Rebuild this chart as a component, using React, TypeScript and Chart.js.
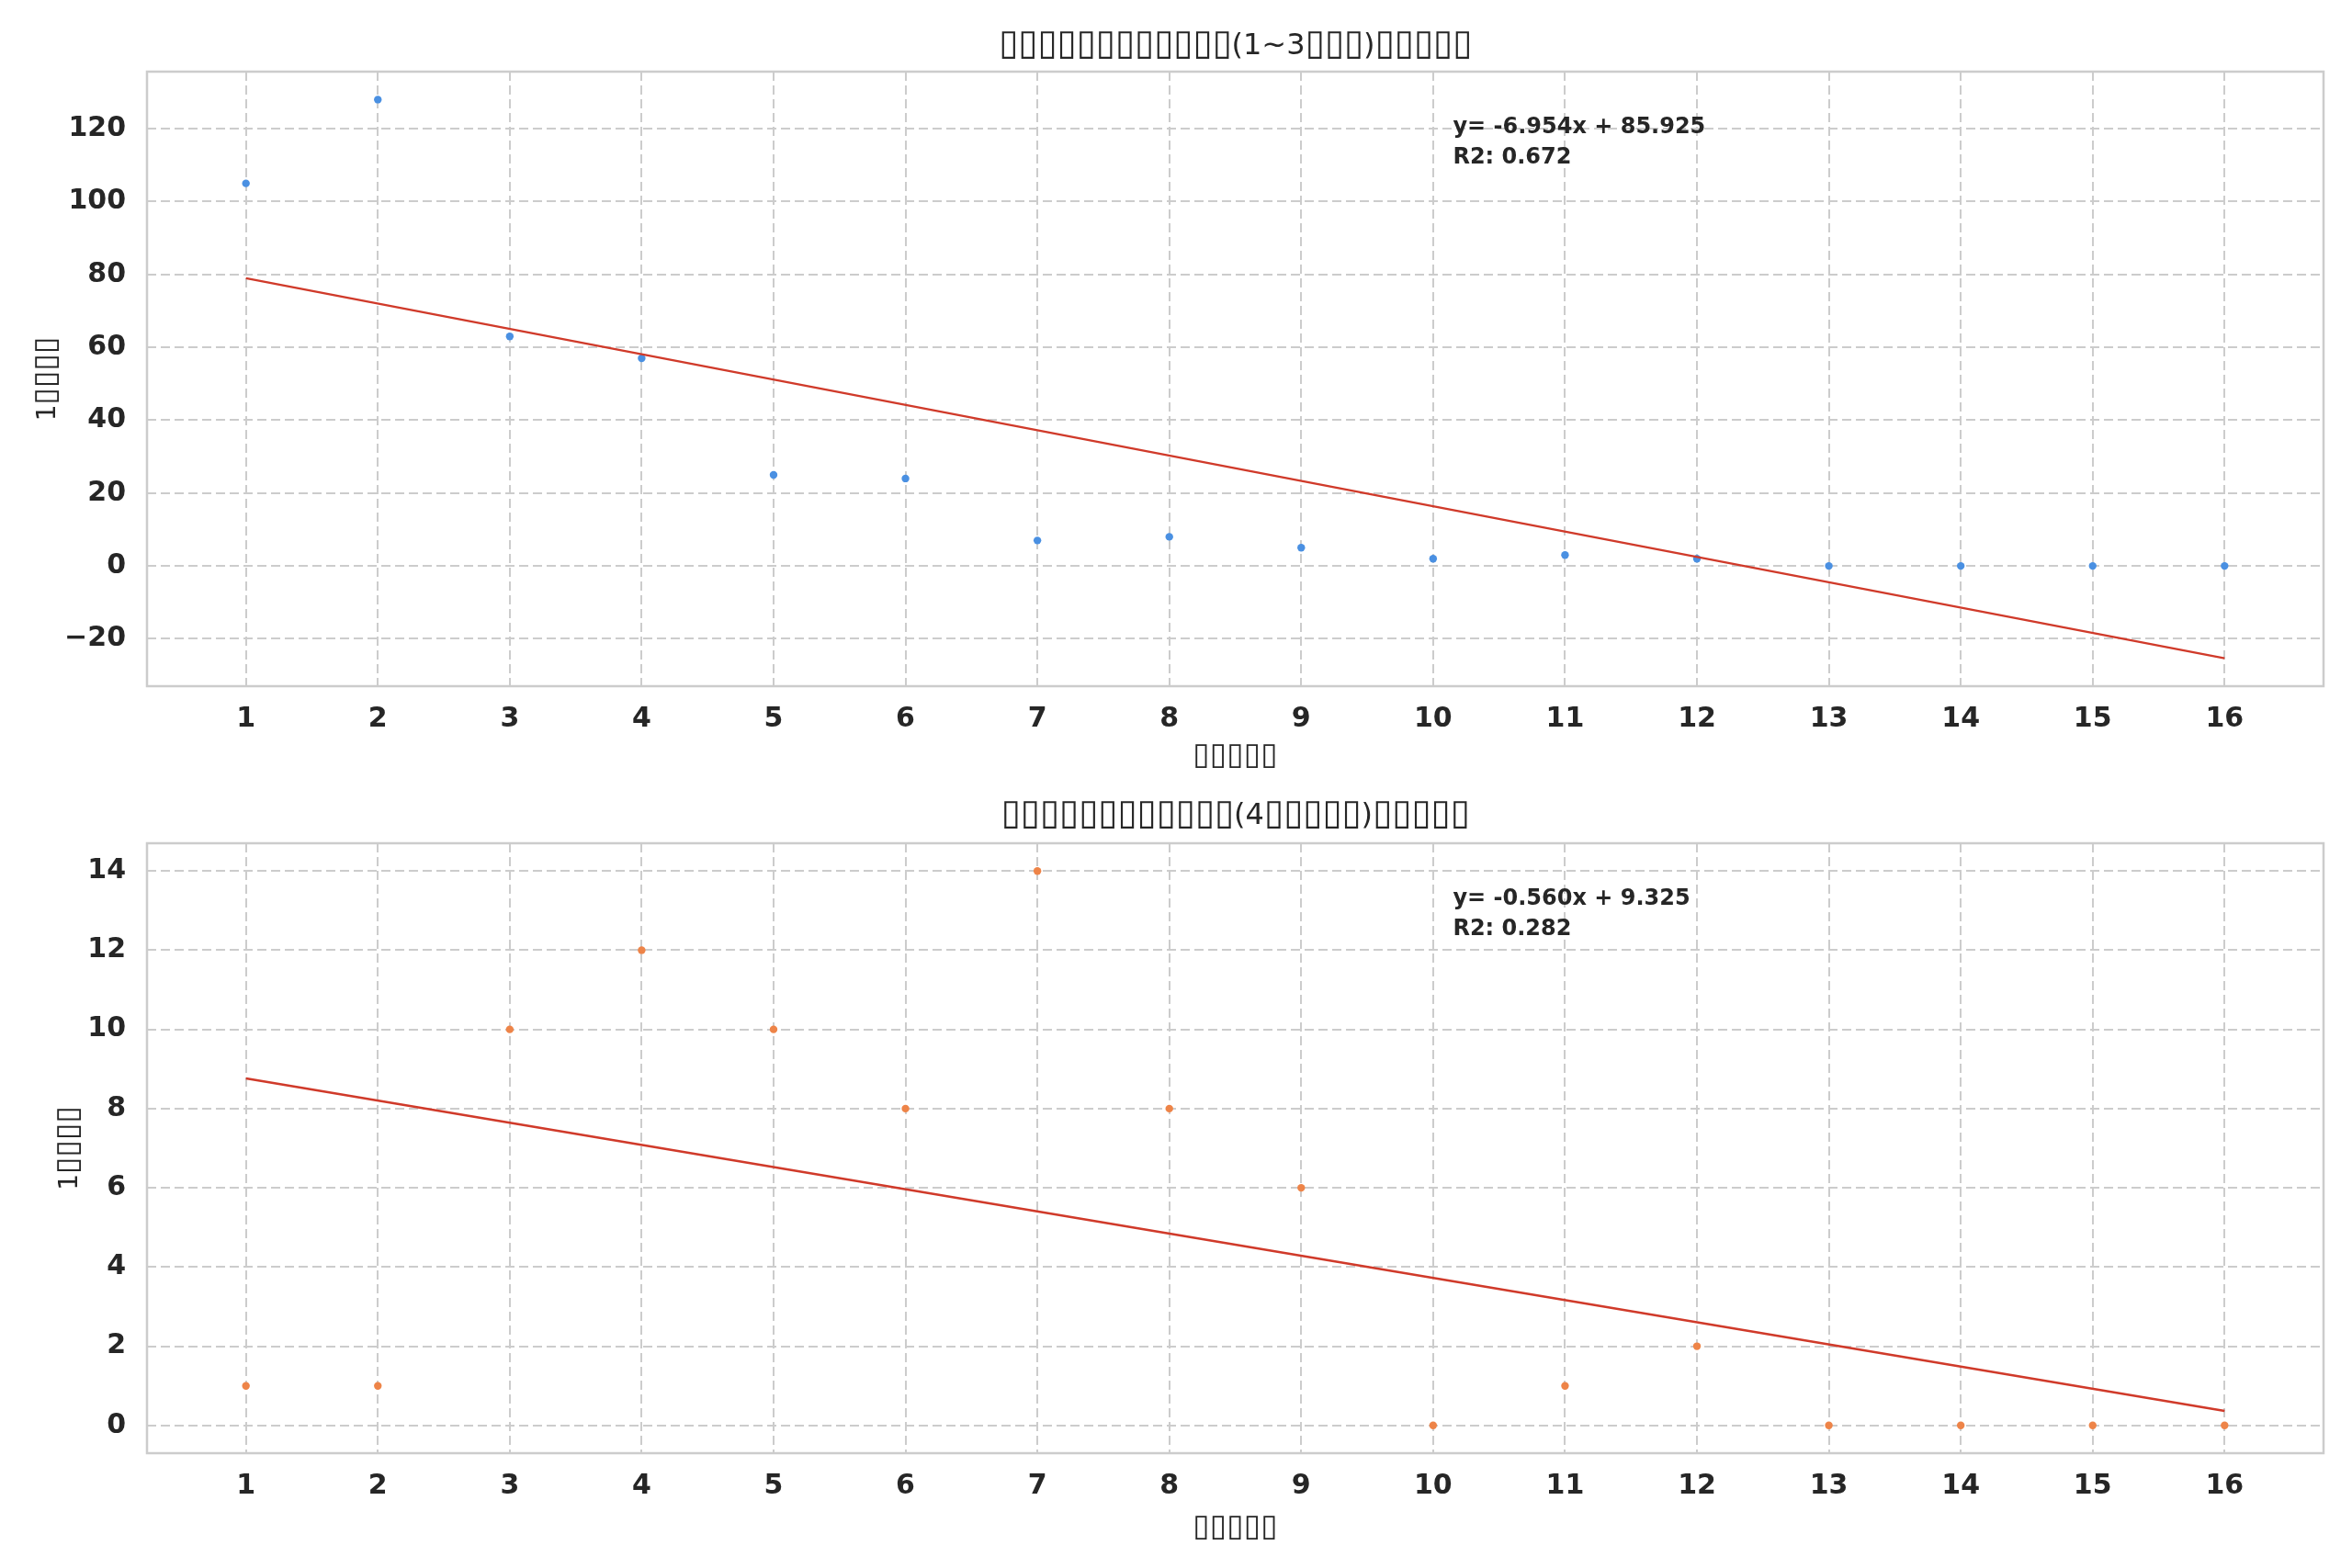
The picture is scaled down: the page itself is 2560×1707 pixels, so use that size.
import React, { useEffect, useRef } from "react";
import { Chart, registerables } from "chart.js";

Chart.register(...registerables);

// ---------- data ----------
const months = [1, 2, 3, 4, 5, 6, 7, 8, 9, 10, 11, 12, 13, 14, 15, 16];
const topValues = [105, 128, 63, 57, 25, 24, 7, 8, 5, 2, 3, 2, 0, 0, 0, 0];
const bottomValues = [1, 1, 10, 12, 10, 8, 14, 8, 6, 0, 1, 2, 0, 0, 0, 0];

// regression lines as printed in the chart
const topSlope = -6.954;
const topIntercept = 85.925;
const topR2 = "0.672";
const bottomSlope = -0.56;
const bottomIntercept = 9.325;
const bottomR2 = "0.282";
const trendX = [1, 16];

const xTicks = [1, 2, 3, 4, 5, 6, 7, 8, 9, 10, 11, 12, 13, 14, 15, 16];
const topYTicks = [-20, 0, 20, 40, 60, 80, 100, 120];
const bottomYTicks = [0, 2, 4, 6, 8, 10, 12, 14];

const B = "\u25AF";
const rep = (n: number) => B.repeat(n);
const topTitle = rep(12) + "(1~3" + rep(3) + ")" + rep(5);
const bottomTitle = rep(12) + "(4" + rep(5) + ")" + rep(5);
const yLabel = "1" + rep(4);
const xLabel = rep(5);

// ---------- style ----------
const TEXT = "#262626";
const GRID = "#cccccc";
const BLUE = "#4a90e2";
const ORANGE = "#ee8448";
const RED = "#d03a2a";
const FONT = "'DejaVu Sans', sans-serif";
const BOX_SCALE = 1.2;

type PanelProps = {
  values: number[];
  color: string;
  slope: number;
  intercept: number;
  r2: string;
  yTicks: number[];
  yMin: number;
  yMax: number;
  title: string;
  height: number;
  areaTop: number;
  areaBottom: number;
  titleBaseline: number;
  yLabelX: number;
  xLabelY: number;
};

const fmtTick = (v: number) => (v < 0 ? "\u2212" + Math.abs(v) : String(v));

// draw text where box glyphs are scaled up (to mimic missing-glyph boxes)
function drawMixed(ctx: any, text: string, x: number, y: number, size: number) {
  const runs: { s: string; box: boolean }[] = [];
  for (const ch of text) {
    const box = ch === B;
    const last = runs[runs.length - 1];
    if (last && last.box === box) last.s += ch;
    else runs.push({ s: ch, box });
  }
  const fontFor = (box: boolean) =>
    (box ? size * BOX_SCALE : size).toFixed(1) + "px " + FONT;
  let total = 0;
  const widths = runs.map((r) => {
    ctx.font = fontFor(r.box);
    const w = ctx.measureText(r.s).width;
    total += w;
    return w;
  });
  let cx = x - total / 2;
  ctx.textAlign = "left";
  runs.forEach((r, i) => {
    ctx.font = fontFor(r.box);
    ctx.fillText(r.s, cx, y);
    cx += widths[i];
  });
}

function Panel(p: PanelProps) {
  const ref = useRef<HTMLCanvasElement | null>(null);
  useEffect(() => {
    const canvas = ref.current;
    if (!canvas) return;
    const trend = trendX.map((x) => ({ x, y: p.slope * x + p.intercept }));
    const eq = "y= " + p.slope.toFixed(3) + "x + " + p.intercept.toFixed(3);

    const deco = {
      id: "deco",
      beforeDatasetsDraw(chart: any) {
        const { ctx, chartArea: a } = chart;
        ctx.save();
        ctx.strokeStyle = GRID;
        ctx.lineWidth = 2.5;
        ctx.setLineDash([]);
        ctx.strokeRect(a.left, a.top, a.right - a.left, a.bottom - a.top);
        ctx.restore();
      },
      afterDraw(chart: any) {
        const { ctx, chartArea: a } = chart;
        ctx.save();
        ctx.fillStyle = TEXT;
        ctx.textBaseline = "alphabetic";
        // title
        drawMixed(ctx, p.title, (a.left + a.right) / 2, p.titleBaseline, 32);
        // x label
        drawMixed(ctx, xLabel, (a.left + a.right) / 2, p.xLabelY + 11, 28);
        // y label
        ctx.save();
        ctx.translate(p.yLabelX + 11, (a.top + a.bottom) / 2);
        ctx.rotate(-Math.PI / 2);
        drawMixed(ctx, yLabel, 0, 0, 28);
        ctx.restore();
        // annotation
        ctx.font = "bold 24px " + FONT;
        ctx.textAlign = "left";
        const ax = a.left + 0.6 * (a.right - a.left);
        ctx.fillText(eq, ax, a.top + 67);
        ctx.fillText("R2: " + p.r2, ax, a.top + 100);
        ctx.restore();
      },
    };

    const chart = new Chart(canvas, {
      type: "scatter",
      data: {
        datasets: [
          {
            type: "line",
            data: trend,
            borderColor: RED,
            borderWidth: 2.5,
            pointRadius: 0,
            fill: false,
            order: 0,
          } as any,
          {
            type: "scatter",
            data: months.map((m, i) => ({ x: m, y: p.values[i] })),
            backgroundColor: p.color,
            borderWidth: 0,
            pointRadius: 4.2,
            order: 1,
          },
        ],
      },
      options: {
        responsive: false,
        animation: false,
        devicePixelRatio: 1,
        layout: {
          padding: { top: p.areaTop, left: 0, right: 31, bottom: 0 },
        },
        plugins: {
          legend: { display: false },
          tooltip: { enabled: false },
          title: { display: false },
        },
        scales: {
          x: {
            type: "linear",
            min: 0.25,
            max: 16.75,
            afterFit: (s: any) => {
              s.height = p.height - p.areaBottom;
            },
            afterBuildTicks: (s: any) => {
              s.ticks = xTicks.map((v) => ({ value: v }));
            },
            grid: { color: GRID, lineWidth: 2, drawTicks: false },
            border: { display: false, dash: [10, 5] },
            ticks: {
              color: TEXT,
              font: { family: FONT, size: 30, weight: "bold" },
              padding: 18,
              maxRotation: 0,
              autoSkip: false,
            },
          },
          y: {
            type: "linear",
            min: p.yMin,
            max: p.yMax,
            afterFit: (s: any) => {
              s.width = 160;
            },
            afterBuildTicks: (s: any) => {
              s.ticks = p.yTicks.map((v) => ({ value: v }));
            },
            grid: { color: GRID, lineWidth: 2, drawTicks: false },
            border: { display: false, dash: [10, 5] },
            ticks: {
              color: TEXT,
              font: { family: FONT, size: 30, weight: "bold" },
              padding: 23,
              autoSkip: false,
              callback: (v: any) => fmtTick(Number(v)),
            },
          },
        },
      } as any,
      plugins: [deco],
    });
    return () => chart.destroy();
  }, []);
  return (
    <canvas
      ref={ref}
      width={2560}
      height={p.height}
      style={{ display: "block", width: 2560, height: p.height }}
    />
  );
}

export default function App() {
  return (
    <div
      style={{
        position: "absolute",
        left: 0,
        top: 0,
        width: 2560,
        height: 1707,
        background: "#ffffff",
        overflow: "hidden",
      }}
    >
      <Panel
        values={topValues}
        color={BLUE}
        slope={topSlope}
        intercept={topIntercept}
        r2={topR2}
        yTicks={topYTicks}
        yMin={-33.0}
        yMax={135.67}
        title={topTitle}
        height={853}
        areaTop={78}
        areaBottom={747}
        titleBaseline={59}
        yLabelX={49}
        xLabelY={821}
      />
      <Panel
        values={bottomValues}
        color={ORANGE}
        slope={bottomSlope}
        intercept={bottomIntercept}
        r2={bottomR2}
        yTicks={bottomYTicks}
        yMin={-0.7}
        yMax={14.7}
        title={bottomTitle}
        height={854}
        areaTop={65}
        areaBottom={729}
        titleBaseline={44}
        yLabelX={73}
        xLabelY={808}
      />
    </div>
  );
}
